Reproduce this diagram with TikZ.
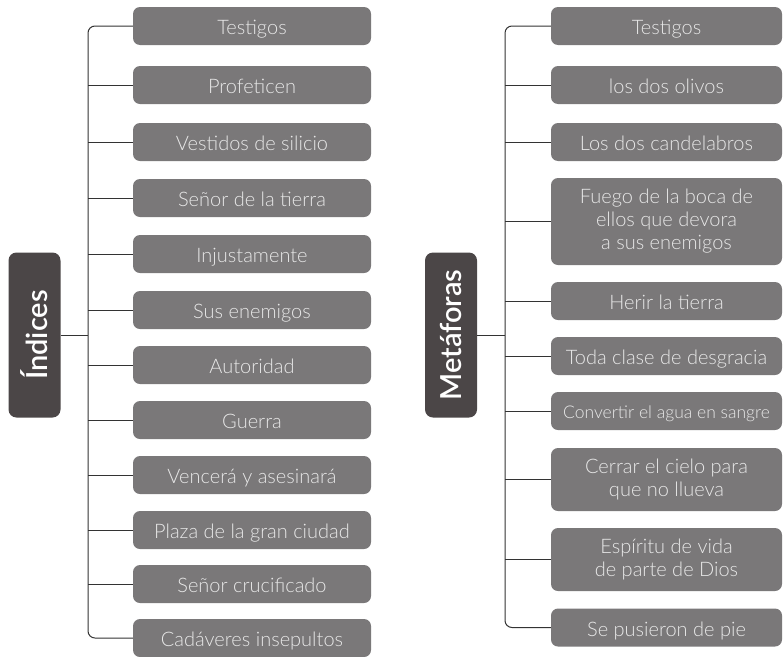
\documentclass[tikz,border=0pt]{standalone}
\usepackage{fontspec}
\setmainfont{Lato}
\newfontfamily\itemfont{Lato Light}
\newfontfamily\headfont{Lato Semibold}
\usetikzlibrary{positioning}
\definecolor{boxgray}{HTML}{7A7879}
\definecolor{headgray}{HTML}{4B4647}
\definecolor{itemtext}{HTML}{E8E8E8}
\definecolor{linegray}{HTML}{333333}

\tikzset{
  itembox/.style={fill=boxgray, text=itemtext, rounded corners=7pt, inner sep=0pt,
    minimum height=38pt, align=center, font=\itemfont\fontsize{20}{23}\selectfont},
  oneline/.style={text height=17pt, text depth=0pt},
  leftbox/.style={itembox, oneline, minimum width=238pt},
  rightbox/.style={itembox, minimum width=231pt},
  headbox/.style={fill=headgray, text=white, rounded corners=8pt, rotate=90, inner sep=0pt,
    minimum width=165pt, minimum height=52pt, font=\headfont\fontsize{29}{32}\selectfont},
  link/.style={draw=linegray, line width=1pt}
}

\begin{document}
\begin{tikzpicture}[x=1pt,y=-1pt]
\useasboundingbox (0,0) rectangle (783,656);

% Indices
\node[headbox] (idx) at (34.5,335) {Índices};
\coordinate (lbar) at (88,0);
\node[leftbox] (l1) at (252,26) {Testigos};
\node[leftbox] (l2) at (252,85) {Profeticen};
\node[leftbox] (l3) at (252,142) {Vestidos de silicio};
\node[leftbox] (l4) at (252,198) {Señor de la tierra};
\node[leftbox] (l5) at (252,254) {Injustamente};
\node[leftbox] (l6) at (252,310) {Sus enemigos};
\node[leftbox] (l7) at (252,365) {Autoridad};
\node[leftbox] (l8) at (252,420) {Guerra};
\node[leftbox] (l9) at (252,475) {Vencerá y asesinará};
\node[leftbox] (l10) at (252,530) {Plaza de la gran ciudad};
\node[leftbox] (l11) at (252,584) {Señor crucificado};
\node[leftbox] (l12) at (252,638) {Cadáveres insepultos};
\draw[link, rounded corners=7pt] (l1.west) -- (lbar |- l1.west) -- (lbar |- l12.west) -- (l12.west);
\foreach \i in {2,...,11}
  \draw[link] (lbar |- l\i.west) -- (l\i.west);
\draw[link] (idx.south) -- (lbar |- idx.south);

% Metaforas
\node[headbox] (met) at (451,335) {Metáforas};
\coordinate (rbar) at (505,0);
\node[rightbox, oneline] (r1) at (666.5,26) {Testigos};
\node[rightbox, oneline] (r2) at (666.5,85) {los dos olivos};
\node[rightbox, oneline] (r3) at (666.5,142) {Los dos candelabros};
\node[rightbox, minimum height=87pt] (r4) at (666.5,221.5) {Fuego de la boca de\\ellos que devora\\a sus enemigos};
\node[rightbox, oneline] (r5) at (666.5,301) {Herir la tierra};
\node[rightbox, oneline] (r6) at (666.5,356) {Toda clase de desgracia};
\node[rightbox, text height=15pt, text depth=0pt, font=\itemfont\fontsize{17.5}{20}\selectfont] (r7) at (666.5,411) {Convertir el agua en sangre};
\node[rightbox, minimum height=63pt] (r8) at (666.5,479.5) {Cerrar el cielo para\\que no llueva};
\node[rightbox, minimum height=63pt] (r9) at (666.5,559.5) {Espíritu de vida\\de parte de Dios};
\node[rightbox, oneline] (r10) at (666.5,627.5) {Se pusieron de pie};
\draw[link, rounded corners=7pt] (r1.west) -- (rbar |- r1.west) -- (rbar |- r10.west) -- (r10.west);
\foreach \i in {2,...,9}
  \draw[link] (rbar |- r\i.west) -- (r\i.west);
\draw[link] (met.south) -- (rbar |- met.south);
\end{tikzpicture}
\end{document}
